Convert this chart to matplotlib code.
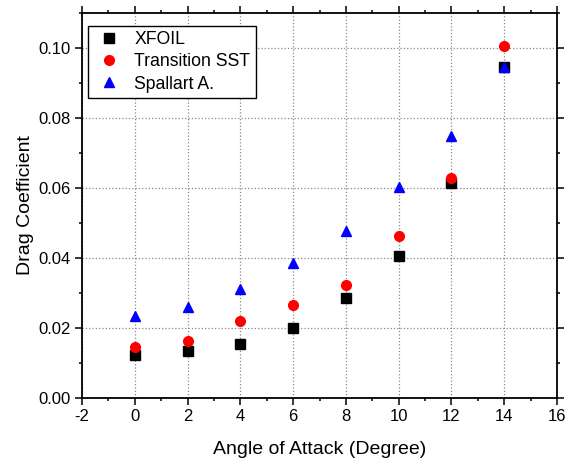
import matplotlib
matplotlib.use("Agg")
import matplotlib.pyplot as plt
from matplotlib.ticker import MultipleLocator, FormatStrFormatter

plt.rcParams['font.family'] = ['Liberation Sans', 'DejaVu Sans']
plt.rcParams['axes.unicode_minus'] = False

angles = [0, 2, 4, 6, 8, 10, 12, 14]
xfoil = [0.0122, 0.0133, 0.0153, 0.0199, 0.0285, 0.0406, 0.0615, 0.0945]
transition_sst = [0.0147, 0.0162, 0.0219, 0.0266, 0.0322, 0.0463, 0.0628, 0.1007]
spalart = [0.0234, 0.0261, 0.0311, 0.0385, 0.0476, 0.0603, 0.0750, 0.0947]

fig = plt.figure(figsize=(5.66, 4.63), dpi=100)
ax = fig.add_axes([0.1449, 0.1404, 0.8392, 0.8315])

ax.plot(angles, xfoil, 's', color='black', markersize=6.5, label='XFOIL', zorder=3)
ax.plot(angles, transition_sst, 'o', color='red', markersize=7, label='Transition SST', zorder=3)
ax.plot(angles, spalart, '^', color='blue', markersize=7.5, label='Spallart A.', zorder=4)

ax.set_xlim(-2, 16)
ax.set_ylim(0, 0.11)
ax.xaxis.set_major_locator(MultipleLocator(2))
ax.xaxis.set_minor_locator(MultipleLocator(1))
ax.yaxis.set_major_locator(MultipleLocator(0.02))
ax.yaxis.set_minor_locator(MultipleLocator(0.01))
ax.yaxis.set_major_formatter(FormatStrFormatter('%.2f'))

ax.tick_params(which='both', direction='out', top=True, right=True,
               labeltop=False, labelright=False, width=1.1)
ax.tick_params(which='major', length=5.2, labelsize=12, pad=3)
ax.tick_params(which='minor', length=2.5)
for s in ax.spines.values():
    s.set_linewidth(1.3)

ax.grid(True, which='major', linestyle=':', color='#888888', linewidth=0.9)
ax.set_axisbelow(True)

ax.set_xlabel('Angle of Attack (Degree)', fontsize=14, labelpad=12)
ax.set_ylabel('Drag Coefficient', fontsize=14, labelpad=3)

leg = ax.legend(loc='upper left', fontsize=12.7, frameon=True, fancybox=False,
                edgecolor='black', framealpha=1, borderpad=0.3, handletextpad=0.55,
                labelspacing=0.3, bbox_to_anchor=(0.012, 0.967), borderaxespad=0,
                handlelength=1.8)
leg.get_frame().set_linewidth(1.0)

fig.savefig('out.png', dpi=100)
